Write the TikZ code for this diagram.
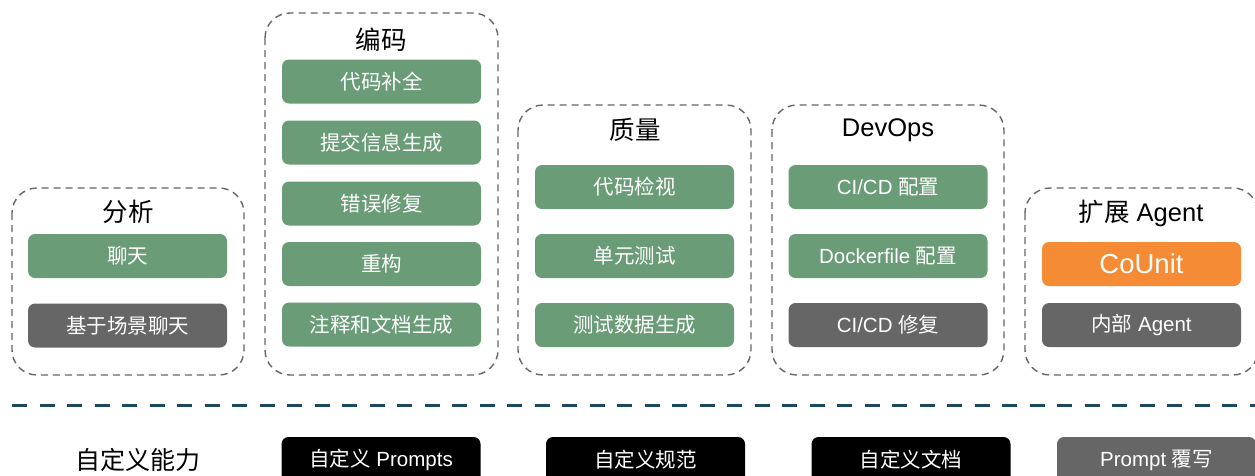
\documentclass[tikz,border=0pt]{standalone}
\usepackage{fontspec}
\setmainfont{Liberation Sans}
\newfontfamily\cjk{Noto Sans CJK SC}
\newcommand{\zh}[1]{{\cjk #1}}
\definecolor{leaf}{HTML}{6A9C78}
\definecolor{slate}{HTML}{666666}
\definecolor{amber}{HTML}{F58B34}
\definecolor{rule}{HTML}{1B4A5A}
\definecolor{frame}{HTML}{666666}
\tikzset{
  group/.style={draw=frame, line width=1.4pt, dash pattern=on 7pt off 5pt, rounded corners=25pt},
  title/.style={font=\fontsize{25.5}{28}\selectfont, text=black},
  item/.style={rounded corners=7pt, minimum width=199pt, minimum height=44pt, inner sep=0pt,
               text=white, font=\fontsize{20.5}{23}\selectfont},
  okitem/.style={item, fill=leaf},
  greyitem/.style={item, fill=slate},
  hotitem/.style={item, fill=amber, font=\fontsize{27.5}{30}\selectfont},
  custom/.style={item, fill=black, minimum height=46pt},
  customgrey/.style={item, fill=slate, minimum height=46pt},
}
\begin{document}
\begin{tikzpicture}[x=1pt,y=-1pt]
\useasboundingbox (0,0) rectangle (1255,475);

% feature groups
\draw[group] (12,188) rectangle (244,375);
\draw[group] (265,13) rectangle (498,375);
\draw[group] (518,105) rectangle (751,375);
\draw[group] (772,105) rectangle (1004,375);
\draw[group] (1025,188) rectangle (1258,375);

% analysis
\node[title] (tA) at (128,212) {\zh{分析}};
\node[okitem] (a1) at (127.5,256) {\zh{聊天}};
\node[greyitem] (a2) at (127.5,325.5) {\zh{基于场景聊天}};

% coding
\node[title] (tB) at (381,40) {\zh{编码}};
\node[okitem] (b1) at (381.5,81.5) {\zh{代码补全}};
\node[okitem] (b2) at (381.5,142.5) {\zh{提交信息生成}};
\node[okitem] (b3) at (381.5,203.5) {\zh{错误修复}};
\node[okitem] (b4) at (381.5,264) {\zh{重构}};
\node[okitem] (b5) at (381.5,324.5) {\zh{注释和文档生成}};

% quality
\node[title] (tC) at (635,130) {\zh{质量}};
\node[okitem] (c1) at (634.5,187) {\zh{代码检视}};
\node[okitem] (c2) at (634.5,256) {\zh{单元测试}};
\node[okitem] (c3) at (634.5,325) {\zh{测试数据生成}};

% devops
\node[title] (tD) at (888,130) {DevOps};
\node[okitem] (d1) at (888,187) {CI/CD \zh{配置}};
\node[okitem] (d2) at (888,256) {Dockerfile \zh{配置}};
\node[greyitem] (d3) at (888,325) {CI/CD \zh{修复}};

% agents
\node[title] (tE) at (1141,213) {\zh{扩展} Agent};
\node[hotitem] (e1) at (1141.5,264) {CoUnit};
\node[greyitem] (e2) at (1141.5,325) {\zh{内部} Agent};

% separator
\coordinate (sepL) at (12,405);
\coordinate (sepR) at (1255,405);
\draw[rule, line width=3pt, dash pattern=on 15pt off 12.5pt] (sepL) -- (sepR);

% customisation row
\node[font=\fontsize{25}{28}\selectfont] (cap) at (138,460) {\zh{自定义能力}};
\node[custom] (f1) at (381,460) {\zh{自定义} Prompts};
\node[custom] (f2) at (645.5,460) {\zh{自定义规范}};
\node[custom] (f3) at (911,460) {\zh{自定义文档}};
\node[customgrey] (f4) at (1156.5,460) {Prompt \zh{覆写}};
\end{tikzpicture}
\end{document}
